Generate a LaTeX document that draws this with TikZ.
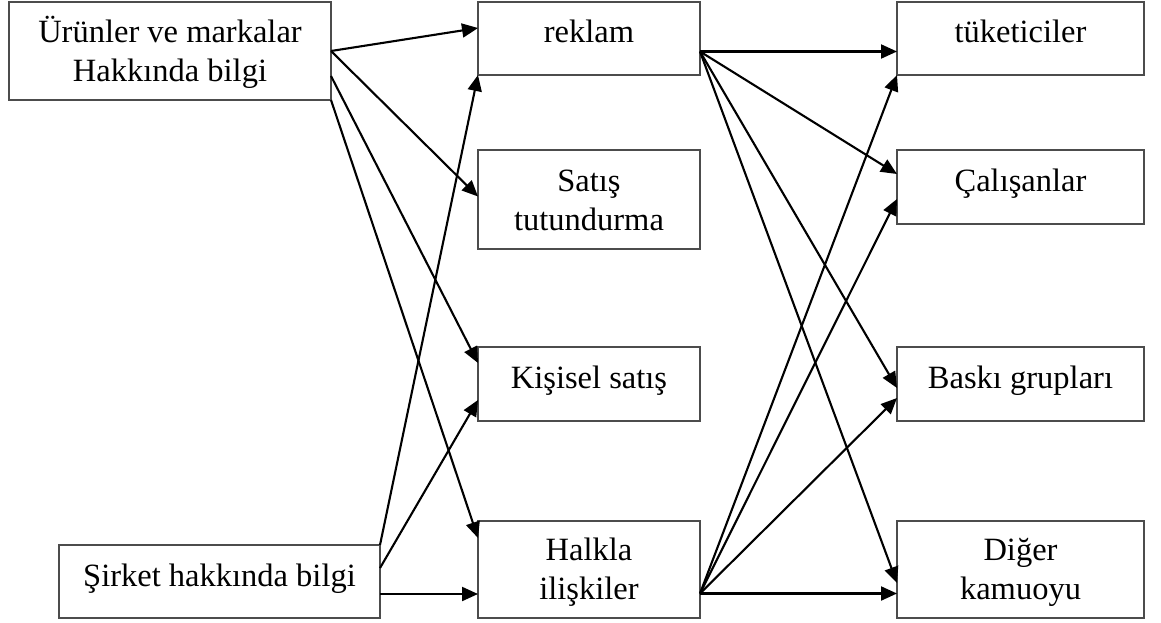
\documentclass[tikz,border=0pt]{standalone}
\usepackage{fontspec}
\setmainfont{Liberation Serif}
\usetikzlibrary{arrows.meta}
\definecolor{boxgray}{rgb}{0.3,0.3,0.3}
\begin{document}
\begin{tikzpicture}[x=1pt,y=-1pt,
  box/.style={draw=boxgray, line width=1.6pt, inner sep=0pt, outer sep=0pt,
    anchor=north west, text height=41pt, font=\fontsize{32.5}{39}\selectfont},
  leftbox/.style={box, minimum width=322pt},
  midbox/.style={box, minimum width=222pt},
  rightbox/.style={box, minimum width=247pt},
  arr/.style={line width=2.1pt, -{Triangle[length=16pt,width=14pt]}}]
\useasboundingbox (0,0) rectangle (1161,623);
% left
\node[leftbox, minimum height=98pt, text depth=57pt] (urun) at (9,2)
  {\begin{tabular}[t]{@{}c@{}}Ürünler ve markalar\\Hakkında bilgi\end{tabular}};
\node[box, minimum width=321pt, minimum height=73pt, text depth=32pt] (sirket) at (59,545)
  {\begin{tabular}[t]{@{}c@{}}Şirket hakkında bilgi\end{tabular}};
% middle
\node[midbox, minimum height=73pt, text depth=32pt] (reklam) at (478,2)
  {\begin{tabular}[t]{@{}c@{}}reklam\end{tabular}};
\node[midbox, minimum height=99pt, text depth=58pt] (satis) at (478,150)
  {\begin{tabular}[t]{@{}c@{}}Satış\\tutundurma\end{tabular}};
\node[midbox, minimum height=74pt, text depth=33pt] (kisisel) at (478,347)
  {\begin{tabular}[t]{@{}c@{}}Kişisel satış\end{tabular}};
\node[midbox, minimum height=97pt, text depth=58pt, text height=39pt] (halkla) at (478,521)
  {\begin{tabular}[t]{@{}c@{}}Halkla\\ilişkiler\end{tabular}};
% right
\node[rightbox, minimum height=73pt, text depth=32pt] (tuk) at (897,2)
  {\begin{tabular}[t]{@{}c@{}}tüketiciler\end{tabular}};
\node[rightbox, minimum height=74pt, text depth=33pt] (cal) at (897,150)
  {\begin{tabular}[t]{@{}c@{}}Çalışanlar\end{tabular}};
\node[rightbox, minimum height=74pt, text depth=33pt] (baski) at (897,347)
  {\begin{tabular}[t]{@{}c@{}}Baskı grupları\end{tabular}};
\node[rightbox, minimum height=97pt, text depth=58pt, text height=39pt] (diger) at (897,521)
  {\begin{tabular}[t]{@{}c@{}}Diğer\\kamuoyu\end{tabular}};
% arrows from urun
\draw[arr] (urun.east) -- ([yshift=10.5pt]reklam.west);
\draw[arr] (urun.east) -- ([yshift=3pt]satis.west);
\draw[arr] ([yshift=-25pt]urun.east) -- ([yshift=21pt]kisisel.west);
\draw[arr] (urun.south east) -- ([yshift=31.5pt]halkla.west);
% arrows from sirket
\draw[arr] (sirket.north east) -- (reklam.south west);
\draw[arr] ([yshift=13.5pt]sirket.east) -- ([yshift=-16pt]kisisel.west);
\draw[arr] ([yshift=-12.5pt]sirket.east) -- ([yshift=-24.5pt]halkla.west);
% arrows from reklam
\draw[arr] ([yshift=-13pt]reklam.east) -- ([yshift=-13pt]tuk.west);
\draw[arr] ([yshift=-13pt]reklam.east) -- ([yshift=13pt]cal.west);
\draw[arr] ([yshift=-13pt]reklam.east) -- ([yshift=-4pt]baski.west);
\draw[arr] ([yshift=-13pt]reklam.east) -- ([yshift=-13.5pt]diger.west);
% arrows from halkla
\draw[arr] ([yshift=-24pt]halkla.east) -- (tuk.south west);
\draw[arr] ([yshift=-24pt]halkla.east) -- ([yshift=-12pt]cal.west);
\draw[arr] ([yshift=-24pt]halkla.east) -- ([yshift=-14pt]baski.west);
\draw[arr] ([yshift=-24pt]halkla.east) -- ([yshift=-24pt]diger.west);
\end{tikzpicture}
\end{document}
